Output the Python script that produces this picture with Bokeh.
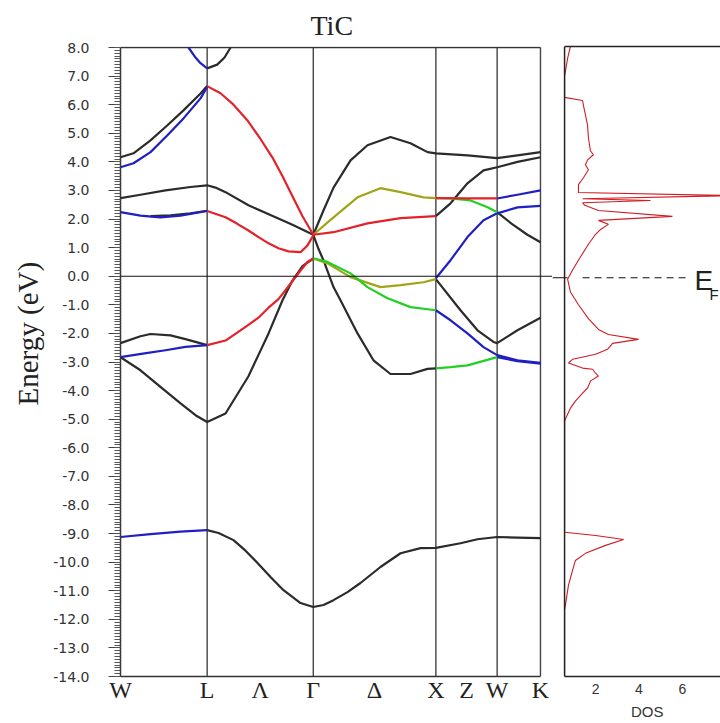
from bokeh.plotting import figure
from bokeh.layouts import row
from bokeh.models import (Range1d, LinearAxis, FixedTicker, SingleIntervalTicker,
                          PrintfTickFormatter, Span, Label, Title)
from bokeh.embed import file_html
from bokeh.resources import INLINE

# ---------------- data ----------------
# k-path positions (units of 2*pi/a) for W-L-Gamma-X-W-K
sym_labels = ["W", "L", "Λ", "Γ", "Δ", "X", "Z", "W", "K"]
sym_pos = [0.0, 0.7071, 1.1401, 1.5731, 2.0731, 2.5731, 2.8231, 3.0731, 3.4267]
sym_lines = [0.7071, 1.5731, 2.5731, 3.0731, 3.4267]
K_END = 3.4267

black_k = [
    [0.707, 0.80, 0.922, 1.02, 1.118, 1.224, 1.330, 1.469, 1.573, 1.656, 1.738, 1.852, 1.958, 2.121, 2.285, 2.448, 2.573, 2.774, 2.913, 3.073, 3.239, 3.427],
    [0, 0.163, 0.326, 0.49, 0.612, 0.707, 0.857, 1.044, 1.126, 1.208, 1.322, 1.403, 1.485, 1.573],
    [0, 0.163, 0.245, 0.408, 0.53, 0.707],
    [0.245, 0.408, 0.571, 0.707],
    [0, 0.163, 0.367, 0.571, 0.707, 0.775, 0.857, 1.044, 1.265, 1.403, 1.573],
    [0, 0.106, 0.245, 0.383, 0.514, 0.653, 0.707],
    [0.707, 0.789, 0.849, 0.898],
    [1.573, 1.656, 1.738, 1.877, 2.015, 2.203, 2.366, 2.505, 2.573, 2.831, 3.073, 3.239, 3.427],
    [2.573, 2.693, 2.831, 2.962, 3.073, 3.239, 3.427],
    [3.073, 3.19, 3.32, 3.427],
    [2.573, 2.774, 2.913, 3.043, 3.073, 3.239, 3.427],
    [1.573, 1.616, 1.656, 1.738, 1.795, 1.934, 2.064, 2.203, 2.366, 2.505, 2.573],
]
black_e = [
    [-8.88, -8.98, -9.23, -9.6, -10.03, -10.52, -10.98, -11.43, -11.57, -11.5, -11.33, -11.05, -10.73, -10.17, -9.69, -9.51, -9.5, -9.34, -9.2, -9.12, -9.14, -9.16],
    [-2.83, -3.29, -3.87, -4.45, -4.86, -5.1, -4.8, -3.5, -2.75, -2.0, -0.84, -0.15, 0.35, 0.62],
    [-2.34, -2.1, -2.02, -2.07, -2.2, -2.41],
    [2.1, 2.13, 2.2, 2.29],
    [2.73, 2.85, 3.0, 3.12, 3.18, 3.1, 2.94, 2.48, 2.06, 1.8, 1.45],
    [4.16, 4.3, 4.75, 5.28, 5.8, 6.39, 6.65],
    [7.27, 7.4, 7.65, 8.0],
    [1.45, 2.3, 3.1, 4.05, 4.58, 4.87, 4.65, 4.34, 4.3, 4.23, 4.13, 4.23, 4.34],
    [2.1, 2.55, 3.25, 3.7, 3.81, 4.0, 4.16],
    [2.24, 1.84, 1.45, 1.19],
    [-0.1, -1.19, -1.89, -2.3, -2.34, -1.89, -1.45],
    [1.45, 0.95, 0.56, -0.38, -0.84, -2.0, -2.94, -3.42, -3.42, -3.24, -3.22],
]

blue_k = [
    [0, 0.245, 0.49, 0.707],
    [0, 0.196, 0.367, 0.53, 0.707],
    [0, 0.163, 0.326, 0.49, 0.707],
    [0, 0.106, 0.245, 0.383, 0.514, 0.653, 0.707],
    [0.555, 0.612, 0.653, 0.707],
    [3.073, 3.239, 3.427],
    [2.573, 2.693, 2.831, 2.962, 3.073, 3.239, 3.427],
    [2.573, 2.693, 2.831, 2.962, 3.073, 3.239, 3.427],
    [3.073, 3.239, 3.427],
]
blue_e = [
    [-9.12, -9.02, -8.93, -8.88],
    [-2.83, -2.7, -2.59, -2.47, -2.41],
    [2.24, 2.12, 2.06, 2.12, 2.28],
    [3.81, 3.95, 4.34, 4.93, 5.52, 6.22, 6.62],
    [8.0, 7.65, 7.45, 7.27],
    [2.72, 2.85, 3.0],
    [-0.07, 0.56, 1.37, 1.96, 2.2, 2.41, 2.46],
    [-1.19, -1.54, -2.0, -2.48, -2.76, -2.94, -3.03],
    [-2.83, -2.97, -3.06],
]

olive_k = [
    [1.573, 1.738, 1.934, 2.121, 2.285, 2.472, 2.573],
    [1.573, 1.689, 1.877, 2.121, 2.285, 2.472, 2.573],
]
olive_e = [
    [1.45, 2.06, 2.76, 3.08, 2.94, 2.76, 2.73],
    [0.62, 0.45, -0.03, -0.38, -0.31, -0.21, -0.1],
]

green_k = [
    [1.573, 1.689, 1.877, 2.015, 2.179, 2.366, 2.573],
    [2.573, 2.693, 2.856, 2.995, 3.073],
    [2.573, 2.693, 2.831, 3.073],
]
green_e = [
    [0.63, 0.5, 0.1, -0.38, -0.77, -1.08, -1.19],
    [2.73, 2.72, 2.65, 2.41, 2.24],
    [-3.22, -3.18, -3.12, -2.83],
]

red_k = [
    [0.707, 0.857, 1.044, 1.126, 1.208, 1.289, 1.371, 1.469, 1.526, 1.573],
    [0.707, 0.857, 0.946, 1.044, 1.126, 1.208, 1.289, 1.371, 1.469, 1.526, 1.573],
    [0.707, 0.816, 0.922, 1.036, 1.142, 1.240, 1.322, 1.403, 1.485, 1.573],
    [1.573, 1.738, 2.015, 2.285, 2.573],
    [2.573, 2.831, 3.073],
]
red_e = [
    [-2.41, -2.25, -1.7, -1.45, -1.1, -0.8, -0.35, 0.2, 0.5, 0.62],
    [2.28, 2.06, 1.85, 1.6, 1.37, 1.15, 0.98, 0.87, 0.84, 1.08, 1.43],
    [6.65, 6.4, 6.0, 5.45, 4.8, 4.15, 3.5, 2.8, 2.1, 1.45],
    [1.45, 1.54, 1.85, 2.03, 2.1],
    [2.73, 2.72, 2.72],
]

# density of states (states/eV) vs energy (eV), top to bottom
dos_energy = [8.14, 7.72, 7.27, 7.09, 6.35, 6.24, 6.07, 5.37, 4.92, 4.47, 4.33, 4.15, 3.98, 3.8,
              3.52, 3.28, 3.07, 3.0, 2.89, 2.78, 2.72, 2.64, 2.55, 2.37, 2.16, 2.02, 1.88, 1.7,
              1.53, 1.18, 0.73, 0.27, -0.05, -0.5, -0.95, -1.44, -1.82, -2.0, -2.17, -2.31,
              -2.52, -2.69, -2.87, -3.0, -3.18, -3.22, -3.36, -3.46, -3.63, -3.88, -4.06, -4.34,
              -4.59, -4.97, -5.05, -8.96, -9.07, -9.21, -9.42, -9.7, -9.95, -10.29, -10.82,
              -11.52, -11.7, -14.035]
dos_value = [0.84, 0.71, 0.61, 0.57, 0.57, 1.40, 1.44, 1.63, 1.67, 1.76, 1.90, 1.63, 1.53, 1.67,
             1.44, 1.21, 1.21, 1.2, 8.3, 1.4, 4.53, 1.4, 1.5, 2.13, 5.54, 2.13, 2.59, 2.23,
             2.0, 1.67, 1.30, 0.94, 0.71, 0.84, 1.21, 1.67, 2.13, 2.59, 3.98, 2.78,
             2.55, 2.0, 0.94, 0.75, 1.40, 1.86, 2.0, 2.13, 1.77, 1.63, 1.40, 1.07,
             0.84, 0.61, 0.57, 0.57, 2.0, 3.29, 2.46, 1.53, 1.07, 0.94, 0.75,
             0.61, 0.57, 0.57]
dos_ticks = [2, 4, 6, 8]
dos_title_pos = 4.38
DOS_BASE = 0.57
DOS_MAX = 7.756

# ---------------- style ----------------
C_BLACK = "#2b2b2b"
C_BLUE = "#1f1fc4"
C_RED = "#e3222b"
C_GREEN = "#22cf22"
C_OLIVE = "#a3a318"
C_DOS = "#cf1d25"
SERIF = "Liberation Serif"
SANS = "Liberation Sans"

# ---------------- band figure ----------------
p1 = figure(width=552, height=723, x_range=Range1d(0, 3.5248), y_range=Range1d(-14, 8.035),
            output_backend="svg", toolbar_location=None,
            min_border_left=120, min_border_right=0, min_border_top=46, min_border_bottom=47)
p1.outline_line_color = None
p1.xgrid.grid_line_color = None
p1.ygrid.grid_line_color = None
p1.background_fill_color = "white"
p1.border_fill_color = "white"

p1.title = Title(text="TiC", align="left", offset=190, text_font=SERIF, text_font_size="28px",
                 text_font_style="normal", text_color="#222222", standoff=11)

ya = p1.yaxis[0]
ya.ticker = SingleIntervalTicker(interval=1, num_minor_ticks=10)
ya.formatter = PrintfTickFormatter(format="%.1f")
ya.bounds = (-14, 8)
ya.axis_line_color = "#333333"
ya.axis_line_width = 1.5
ya.major_tick_out = 12
ya.major_tick_in = 0
ya.minor_tick_out = 6
ya.minor_tick_in = 0
ya.major_tick_line_color = "#444444"
ya.minor_tick_line_color = "#555555"
ya.major_label_standoff = 19
ya.major_label_text_font = "DejaVu Sans"
ya.major_label_text_font_size = "14px"
ya.major_label_text_color = "#333333"

p1.add_layout(Title(text="Energy (eV)", align="left", offset=271, standoff=14,
                    text_font=SERIF, text_font_size="29px", text_font_style="normal",
                    text_color="#222222"), "left")

xa = p1.xaxis[0]
xa.ticker = FixedTicker(ticks=sym_pos)
xa.major_label_overrides = {pos: lab for pos, lab in zip(sym_pos, sym_labels)}
xa.bounds = (0, K_END)
xa.axis_line_color = "#333333"
xa.axis_line_width = 1.5
xa.major_tick_out = 0
xa.major_tick_in = 0
xa.minor_tick_line_color = None
xa.major_label_standoff = 0
xa.major_label_text_font = SERIF
xa.major_label_text_font_size = "24px"
xa.major_label_text_color = "#222222"

# frame: top border, vertical symmetry lines, Fermi level
p1.line([0, K_END], [8, 8], line_color="#333333", line_width=1.5)
p1.segment(x0=sym_lines, y0=-14, x1=sym_lines, y1=8, line_color="#444444", line_width=1.4)
p1.add_layout(Span(location=0, dimension="width", line_color="#111111", line_width=1.2))

for ks, es, col in [(black_k, black_e, C_BLACK), (blue_k, blue_e, C_BLUE),
                    (olive_k, olive_e, C_OLIVE), (green_k, green_e, C_GREEN),
                    (red_k, red_e, C_RED)]:
    p1.multi_line(xs=ks, ys=es, line_color=col, line_width=2.2, line_join="round")

# ---------------- DOS figure ----------------
p2 = figure(width=168, height=723, x_range=Range1d(0.014, DOS_MAX), y_range=Range1d(-14.035, 8.14),
            output_backend="svg", toolbar_location=None, y_axis_location=None,
            min_border_left=0, min_border_right=0, min_border_top=43, min_border_bottom=46)
p2.outline_line_color = None
p2.xgrid.grid_line_color = None
p2.ygrid.grid_line_color = None
p2.background_fill_color = "white"
p2.border_fill_color = "white"

xb = p2.xaxis[0]
xb.ticker = FixedTicker(ticks=dos_ticks)
xb.bounds = (DOS_BASE, DOS_MAX)
xb.axis_line_color = "#222222"
xb.axis_line_width = 1.5
xb.major_tick_out = 0
xb.major_tick_in = 0
xb.minor_tick_line_color = None
xb.major_label_standoff = 7
xb.major_label_text_font = SANS
xb.major_label_text_font_size = "14px"
xb.major_label_text_color = "#333333"

dos_ax = LinearAxis(ticker=FixedTicker(ticks=[dos_title_pos]),
                    major_label_overrides={dos_title_pos: "DOS"},
                    axis_line_color=None, major_tick_line_color=None,
                    minor_tick_line_color=None, major_tick_out=0, major_tick_in=0,
                    major_label_standoff=6, major_label_text_font=SANS,
                    major_label_text_font_size="15px", major_label_text_color="#333333")
p2.add_layout(dos_ax, "below")

top_ax = LinearAxis(ticker=FixedTicker(ticks=[]), bounds=(DOS_BASE, DOS_MAX),
                    axis_line_color="#222222", axis_line_width=1.5,
                    major_tick_line_color=None, minor_tick_line_color=None,
                    major_label_text_font_size="0px")
p2.add_layout(top_ax, "above")
p2.add_layout(Span(location=DOS_BASE, dimension="height", line_color="#222222", line_width=1.5))

p2.line([0.014, 0.71], [0, 0], line_color="#111111", line_width=1.2)
p2.line([1.40, 6.19], [0, 0], line_color="#111111", line_width=1.2, line_dash="7 5")
p2.line(dos_value, dos_energy, line_color=C_DOS, line_width=1.1)

p2.add_layout(Label(x=6.56, y=-0.08, text="E", text_font=SANS, text_font_size="28px",
                    text_baseline="alphabetic", text_color="#222222"))
p2.add_layout(Label(x=7.25, y=-0.6, text="F", text_font=SANS, text_font_size="15px",
                    text_baseline="alphabetic", text_color="#222222"))

layout = row(p1, p2)
open("out.html", "w").write(file_html(layout, INLINE))
